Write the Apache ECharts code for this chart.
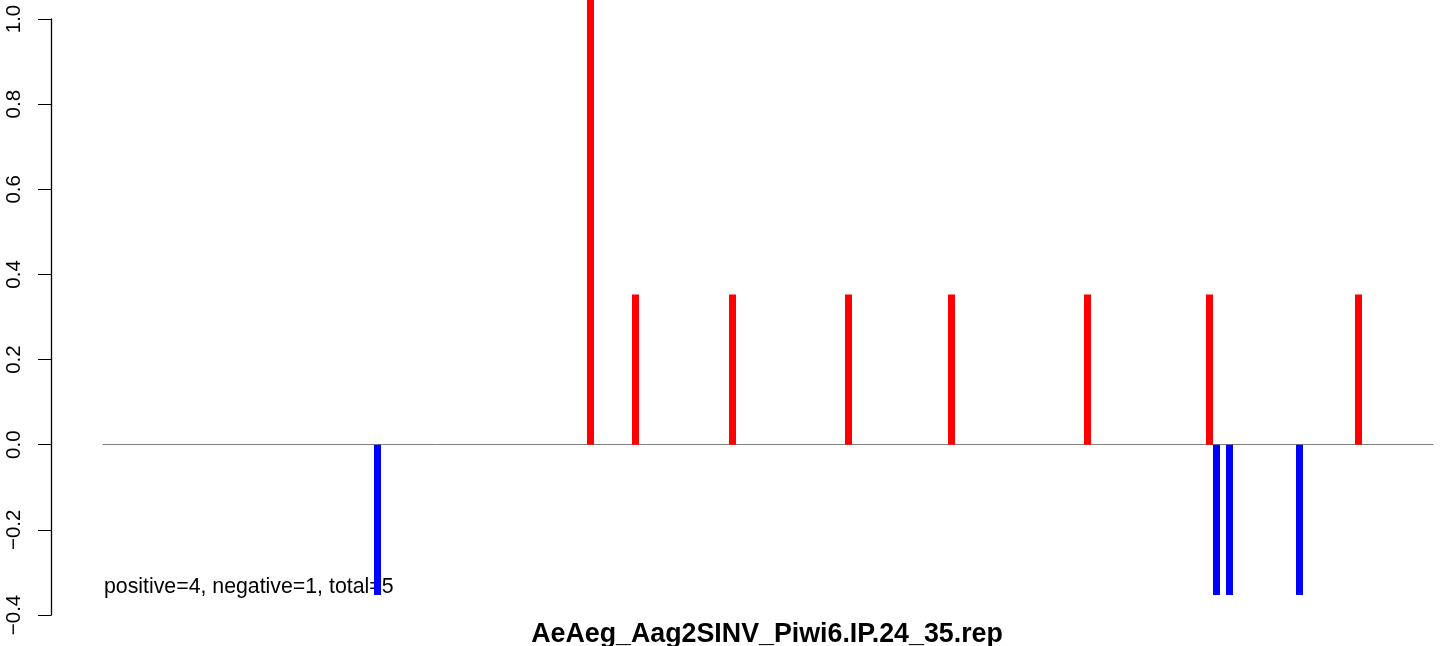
<!DOCTYPE html>
<html>
<head>
<meta charset="utf-8">
<script src="https://cdn.jsdelivr.net/npm/echarts@6/dist/echarts.min.js"></script>
<style>
html,body{margin:0;padding:0;background:#fff;}
#c{width:1444px;height:646px;}
</style>
</head>
<body>
<div id="c"></div>
<script>
// Data
const positions = [274.5, 487.5, 532.5, 629.5, 745.5, 848.5, 984.5, 1106.5, 1113.5, 1126.5, 1196.5, 1255.5];
const values    = [-0.353, 1.1, 0.353, 0.353, 0.353, 0.353, 0.353, 0.353, -0.353, -0.353, -0.353, 0.353];
const yTicks = [-0.4, -0.2, 0.0, 0.2, 0.4, 0.6, 0.8, 1.0];
const titleText = 'AeAeg_Aag2SINV_Piwi6.IP.24_35.rep';
const noteText = 'positive=4, negative=1, total=5';

const chart = echarts.init(document.getElementById('c'), null, {renderer: 'canvas'});
const FONT = '"Liberation Sans", Arial, Helvetica, sans-serif';

chart.setOption({
  animation: false,
  backgroundColor: '#ffffff',
  grid: {left: 103, width: 1330, top: 19, height: 596, containLabel: false},
  title: {
    text: titleText,
    left: 762, top: 616,
    textAlign: 'center',
    textStyle: {fontFamily: FONT, fontWeight: 'bold', fontSize: 26.8, color: '#000'}
  },
  xAxis: {
    type: 'value', min: 0, max: 1330,
    axisLine: {show: true, onZero: true, lineStyle: {color: '#808080', width: 1}},
    axisTick: {show: false}, axisLabel: {show: false}, splitLine: {show: false}
  },
  yAxis: {
    type: 'value', min: yTicks[0], max: yTicks[yTicks.length - 1], interval: 0.2,
    offset: 52,
    axisLine: {show: true, onZero: false, lineStyle: {color: '#000', width: 1.3}},
    axisTick: {show: true, length: 13, lineStyle: {color: '#000', width: 1}},
    axisLabel: {
      rotate: 90, margin: 26, fontFamily: FONT, fontSize: 20.5, color: '#000',
      formatter: v => (Math.round(v * 10) / 10).toFixed(1).replace('-', '\u2212')
    },
    splitLine: {show: false}
  },
  graphic: [{
    type: 'text', left: 104, top: 577,
    style: {text: noteText, font: '21.3px ' + FONT, fill: '#000'}
  }],
  series: [{
    type: 'bar',
    barWidth: 7,
    clip: false,
    z: 3,
    data: positions.map((p, i) => ({
      value: [p, values[i]],
      itemStyle: {color: values[i] >= 0 ? '#FF0000' : '#0000FF'}
    }))
  }]
});
</script>
</body>
</html>
